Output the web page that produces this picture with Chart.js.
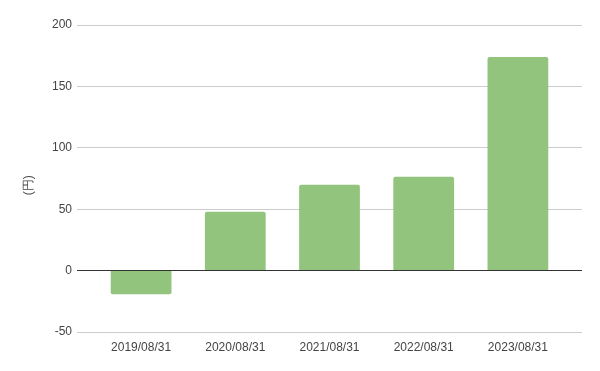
<!DOCTYPE html>
<html>
<head>
<meta charset="utf-8">
<script src="https://cdn.jsdelivr.net/npm/chart.js@4/dist/chart.umd.min.js"></script>
<style>
  html, body { margin: 0; padding: 0; background: #fff; }
  #wrap { width: 600px; height: 371px; }
</style>
</head>
<body>
<div id="wrap"><canvas id="chart" width="600" height="371"></canvas></div>
<script>
// values
const categories = ['2019/08/31', '2020/08/31', '2021/08/31', '2022/08/31', '2023/08/31'];
const values = [-19.3, 48.0, 69.9, 76.4, 174.0];
const yTicks = [-50, 0, 50, 100, 150, 200];

Chart.defaults.font.family = '"Liberation Sans", Arial, sans-serif';
Chart.defaults.font.size = 12;
Chart.defaults.color = '#444';

function gridColor(context) {
    return context.tick && context.tick.value === 0 ? '#333333' : '#cccccc';
}

function fixedTicks(scale) {
    scale.ticks = yTicks.map(v => ({ value: v }));
}

const ctx = document.getElementById('chart').getContext('2d');

new Chart(ctx, {
    type: 'bar',
    data: {
        labels: categories,
        datasets: [{
            label: '(円)',
            data: values,
            backgroundColor: '#93c47d',
            borderWidth: 0,
            borderRadius: 2,
            borderSkipped: 'start',
            barPercentage: 0.645,
            categoryPercentage: 1.0
        }]
    },
    options: {
        responsive: false,
        animation: false,
        layout: {
            padding: { top: 25, right: 18, left: 0, bottom: 0 }
        },
        plugins: {
            legend: { display: false },
            tooltip: { enabled: false }
        },
        scales: {
            x: {
                grid: { display: false },
                border: { display: false },
                ticks: { padding: 0, maxRotation: 0 },
                afterFit: function(scale) {
                    scale.height = 39;
                }
            },
            y: {
                min: yTicks[0],
                max: yTicks[yTicks.length - 1],
                afterBuildTicks: fixedTicks,
                border: { display: false },
                grid: {
                    drawTicks: true,
                    tickLength: 17,
                    color: gridColor,
                    tickColor: gridColor
                },
                ticks: { padding: 5 },
                title: {
                    display: true,
                    text: '(円)    ',
                    padding: { top: 21, bottom: 0 }
                },
                afterFit: function(scale) {
                    scale.width = 94;
                }
            },
            yRight: {
                position: 'right',
                min: yTicks[0],
                max: yTicks[yTicks.length - 1],
                afterBuildTicks: fixedTicks,
                border: { display: false },
                grid: {
                    drawOnChartArea: false,
                    drawTicks: true,
                    tickLength: 17,
                    color: gridColor,
                    tickColor: gridColor
                },
                ticks: { display: false },
                afterFit: function(scale) {
                    scale.width = 17;
                }
            }
        }
    }
});
</script>
</body>
</html>
